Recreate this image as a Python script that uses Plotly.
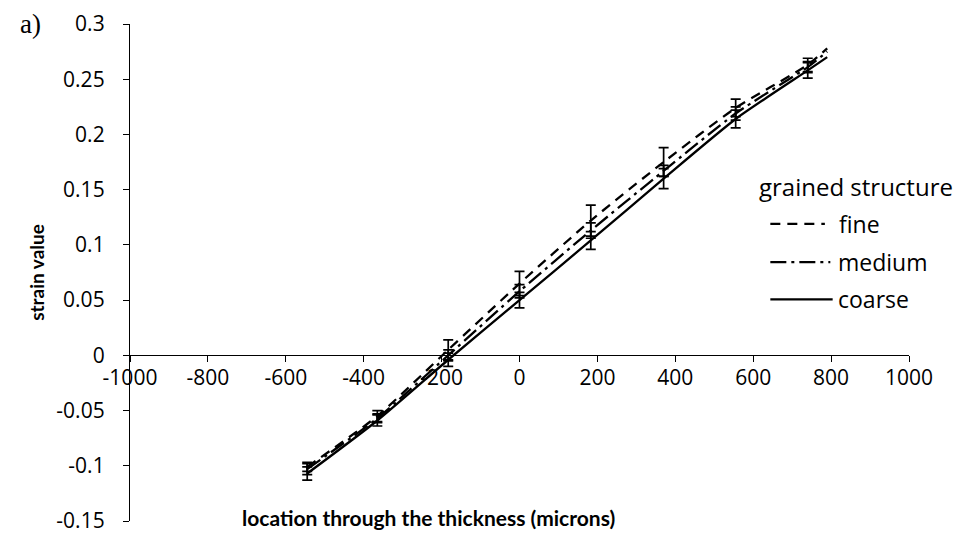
import plotly.graph_objects as go

# Location through the thickness (microns) of each measured point
location = [-545, -365, -183, 0, 183, 370, 555, 740, 790]

# Mean strain for each grain structure
fine = [-0.101, -0.055, 0.005, 0.065, 0.122, 0.175, 0.224, 0.263, 0.278]
medium = [-0.103, -0.057, 0.000, 0.058, 0.113, 0.167, 0.219, 0.261, 0.275]
coarse = [-0.107, -0.059, -0.004, 0.050, 0.104, 0.160, 0.214, 0.258, 0.270]

# Scatter (+/-) of the measured strain at the first eight locations
fine_err = [0.004, 0.005, 0.009, 0.011, 0.014, 0.013, 0.008, 0.006]
medium_err = [0.005, 0.004, 0.005, 0.006, 0.007, 0.005, 0.006, 0.005]
coarse_err = [0.006, 0.005, 0.006, 0.007, 0.008, 0.009, 0.008, 0.007]

series_names = ["fine", "medium", "coarse"]
x_ticks = [-1000, -800, -600, -400, -200, 0, 200, 400, 600, 800, 1000]
x_labels = ["-1000", "-800", "-600", "-400", "-200", "0", "200", "400", "600", "800", "1000"]
y_ticks = [-0.15, -0.1, -0.05, 0, 0.05, 0.1, 0.15, 0.2, 0.25, 0.3]
y_labels = ["-0.15", "-0.1", "-0.05", "0", "0.05", "0.1", "0.15", "0.2", "0.25", "0.3"]

dashes = ["10px,7px", "16px,5px,3px,5px", "solid"]
values = [fine, medium, coarse]
errors = [fine_err, medium_err, coarse_err]

FONT = "'Open Sans', sans-serif"
TITLE_FONT = "Lato, sans-serif"
Y_MIN, Y_MAX = -0.15, 0.3

fig = go.Figure()
for name, vals, errs, dash in zip(series_names, values, errors, dashes):
    fig.add_trace(go.Scatter(
        x=location, y=vals, mode="lines", name=name,
        line=dict(color="black", width=2.3, dash=dash, shape="spline", smoothing=0.6),
        showlegend=False,
    ))
    n = len(errs)
    fig.add_trace(go.Scatter(
        x=location[:n], y=vals[:n], mode="markers", name=name,
        marker=dict(size=1, color="black"),
        error_y=dict(type="data", array=errs, color="black", thickness=1.7, width=5),
        showlegend=False, hoverinfo="skip",
    ))

# Legend drawn beside the curves: a line sample and a label per series
shapes = []
annotations = [
    dict(text="grained structure", xref="paper", yref="paper",
         x=0.805, y=0.673, xanchor="left", yanchor="middle", showarrow=False,
         font=dict(size=24)),
]
legend_rows = [0.598, 0.521, 0.446]
sample_ends = [0.892, 0.899, 0.902]
label_starts = [0.908, 0.906, 0.906]
for name, dash, yrow, x1, xl in zip(series_names, dashes, legend_rows, sample_ends, label_starts):
    shapes.append(dict(type="line", xref="paper", yref="paper",
                       x0=0.822, x1=x1, y0=yrow, y1=yrow,
                       line=dict(color="black", width=2.3, dash=dash)))
    annotations.append(dict(text=name, xref="paper", yref="paper",
                            x=xl, y=yrow, xanchor="left", yanchor="middle",
                            showarrow=False, font=dict(size=23)))

annotations += [
    dict(text="<b>location through the thickness (microns)</b>",
         xref="paper", yref="paper", x=0.383, y=0.008,
         xanchor="center", yanchor="middle", showarrow=False,
         font=dict(family=TITLE_FONT, size=21)),
    dict(text="a)", xref="paper", yref="paper", x=-0.128, y=1.0,
         xanchor="center", yanchor="middle", showarrow=False,
         font=dict(family="'Liberation Serif', 'DejaVu Serif', serif", size=27)),
]

fig.update_layout(
    width=963, height=535,
    margin=dict(l=130, r=54, t=24, b=14),
    paper_bgcolor="white", plot_bgcolor="white",
    font=dict(family=FONT, size=21, color="black"),
    showlegend=False,
    shapes=shapes,
    annotations=annotations,
    xaxis=dict(
        range=[-1000, 1000], tickvals=x_ticks, ticktext=x_labels,
        showgrid=False, zeroline=False, automargin=False,
        showline=True, linecolor="black", linewidth=1.3,
        ticks="outside", ticklen=6, tickcolor="black",
        anchor="free", position=(0 - Y_MIN) / (Y_MAX - Y_MIN),
        ticklabelstandoff=-3, ticklabeloverflow="allow",
    ),
    yaxis=dict(
        range=[Y_MIN, Y_MAX], tickvals=y_ticks, ticktext=y_labels,
        showgrid=False, zeroline=False, automargin=False,
        showline=True, linecolor="black", linewidth=1.3,
        ticks="outside", ticklen=6, tickcolor="black",
        ticklabelstandoff=14, ticklabeloverflow="allow",
        title=dict(text="<b>strain value</b>",
                   font=dict(family=TITLE_FONT, size=19), standoff=6),
    ),
)

fig.write_html("out.html")
